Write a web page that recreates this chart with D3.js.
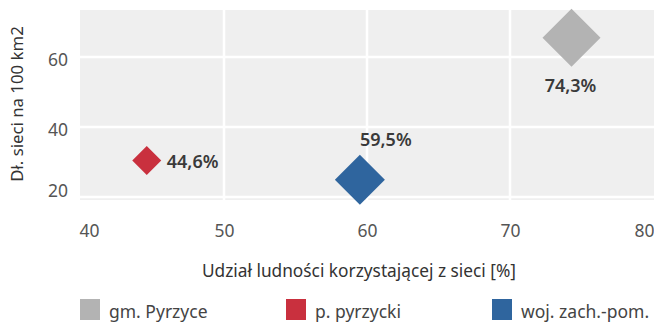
<!DOCTYPE html>
<html>
<head>
<meta charset="utf-8">
<script src="https://cdn.jsdelivr.net/npm/d3@7"></script>
<style>
  html, body { margin: 0; padding: 0; background: #fff; }
  svg { display: block; font-family: "Noto Sans", "Open Sans", sans-serif; }
</style>
</head>
<body>
<svg id="chart" width="654" height="322"></svg>
<script>
// Units shown in the chart
const units = ["gm. Pyrzyce", "p. pyrzycki", "woj. zach.-pom."];
// Share of population using the network [%]
const shareUsing = [74.3, 44.6, 59.5];
// Network length per 100 km2
const lengthPer100 = [65.5, 30.4, 24.9];
// Relative marker size
const markerSize = [58, 29, 50];
const colors = ["#b3b3b3", "#c9303e", "#2f659e"];
const xTicks = [40, 50, 60, 70, 80];
const yTicks = [20, 40, 60];

const svg = d3.select("#chart");
const plot = { left: 80, right: 654, top: 10, bottom: 200 };

const x = d3.scaleLinear().domain([40, 80]).range([81, 653]);
const y = d3.scaleLinear().domain([19.15, 73.4]).range([plot.bottom, plot.top]);
const size = d3.scaleLinear().domain([0, 58]).range([0, 58]);

// panel background
svg.append("rect")
  .attr("x", plot.left).attr("y", plot.top)
  .attr("width", plot.right - plot.left).attr("height", plot.bottom - plot.top)
  .attr("fill", "#efefef");

// gridlines
svg.append("g").selectAll("line").data(xTicks.slice(1, -1)).join("line")
  .attr("x1", d => x(d)).attr("x2", d => x(d))
  .attr("y1", plot.top).attr("y2", plot.bottom)
  .attr("stroke", "#fff").attr("stroke-width", 2.5);
svg.append("g").selectAll("line").data(yTicks).join("line")
  .attr("x1", plot.left).attr("x2", plot.right)
  .attr("y1", d => y(d)).attr("y2", d => y(d))
  .attr("stroke", "#fff").attr("stroke-width", 2.5);

// x axis tick labels
const xAxis = d3.axisBottom(x).tickValues(xTicks).tickSize(0).tickPadding(0);
const gx = svg.append("g").attr("transform", `translate(0,${plot.bottom})`).call(xAxis);
gx.select(".domain").remove();
gx.selectAll("text")
  .attr("dy", null).attr("y", 37)
  .attr("font-size", 17.5).attr("fill", "#555")
  .attr("font-family", "Noto Sans, sans-serif")
  .attr("text-anchor", d => d === 40 ? "start" : d === 80 ? "end" : "middle")
  .attr("dx", d => d === 40 ? -2 : d === 80 ? 1 : 0);

// y axis tick labels
const yAxis = d3.axisLeft(y).tickValues(yTicks).tickSize(0).tickPadding(0);
const gy = svg.append("g").attr("transform", `translate(${plot.left - 12},0)`).call(yAxis);
gy.select(".domain").remove();
gy.selectAll("text")
  .attr("font-size", 17.5).attr("fill", "#555")
  .attr("font-family", "Noto Sans, sans-serif")
  .attr("dy", d => d === 20 ? "-0.05em" : "0.5em");

// axis titles
svg.append("text")
  .attr("transform", "translate(23,104) rotate(-90)")
  .attr("text-anchor", "middle")
  .attr("font-size", 16.8).attr("fill", "#333")
  .text("Dł. sieci na 100 km2");
svg.append("text")
  .attr("x", 359).attr("y", 277)
  .attr("text-anchor", "middle")
  .attr("font-size", 17.3).attr("fill", "#333")
  .text("Udział ludności korzystającej z sieci [%]");

// diamond markers
const pts = units.map((u, i) => ({ u, xv: shareUsing[i], yv: lengthPer100[i], s: markerSize[i], c: colors[i] }));
const diamond = s => { const h = s / 2; return `M0,${-h}L${h},0L0,${h}L${-h},0Z`; };
svg.append("g").selectAll("path").data(pts).join("path")
  .attr("transform", d => `translate(${x(d.xv)},${y(d.yv)})`)
  .attr("d", d => diamond(size(d.s)))
  .attr("fill", d => d.c);

// value labels
const fmt = v => v.toFixed(1).replace(".", ",") + "%";
const labelPos = [
  { dx: -1, dy: 54, anchor: "middle" },
  { dx: 20, dy: 7, anchor: "start" },
  { dx: 26, dy: -34, anchor: "middle" }
];
svg.append("g").selectAll("text").data(pts).join("text")
  .attr("x", (d, i) => x(d.xv) + labelPos[i].dx)
  .attr("y", (d, i) => y(d.yv) + labelPos[i].dy)
  .attr("text-anchor", (d, i) => labelPos[i].anchor)
  .attr("font-size", 18).attr("font-weight", 600).attr("fill", "#3a3a3a")
  .text(d => fmt(d.xv));

// legend
const legendX = [80, 286, 492];
const lg = svg.append("g").selectAll("g").data(pts).join("g")
  .attr("transform", (d, i) => `translate(${legendX[i]},299)`);
lg.append("rect").attr("width", 20).attr("height", 21).attr("fill", d => d.c);
lg.append("text").attr("x", 29).attr("y", 19)
  .attr("font-size", 17.5).attr("fill", "#444")
  .text(d => d.u);
</script>
</body>
</html>
